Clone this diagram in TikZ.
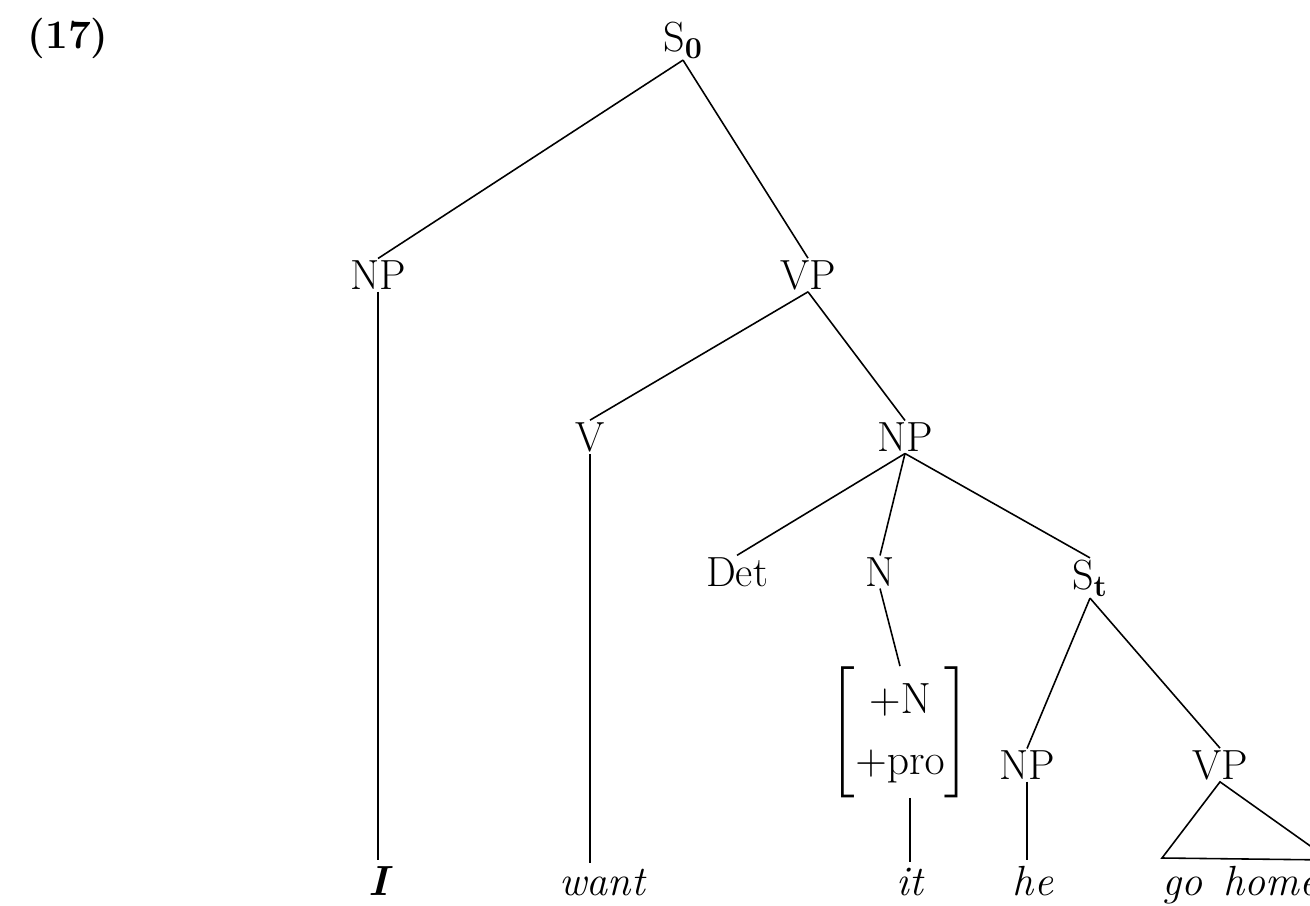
\documentclass[tikz,border=0pt]{standalone}
\usepackage{amsmath}
\begin{document}
\begin{tikzpicture}[x=0.02cm,y=-0.02cm,
  lab/.style={inner sep=1pt,font=\fontsize{24}{29}\selectfont},
  word/.style={inner sep=3pt,font=\fontsize{24}{29}\selectfont\itshape},
  edge/.style={line width=0.9pt}]
\useasboundingbox (0,0) rectangle (1310,905);
\clip (0,0) rectangle (1310,905);
\node[lab,font=\fontsize{23}{28}\selectfont\bfseries] (num) at (68,38) {(17)};
\node[lab] (S0) at (683,40) {S$_{\mathbf{0}}$};
\node[lab] (NPa) at (378,275) {NP};
\node[lab] (VPa) at (808,275) {VP};
\node[lab] (V) at (590,437) {V};
\node[lab] (NPb) at (905,437) {NP};
\node[lab] (Det) at (737,572) {Det};
\node[lab] (N) at (880,572) {N};
\node[lab] (St) at (1090,578) {S$_{\mathbf{t}}$};
\node[lab,inner sep=0pt] (feat) at (900,732) {$\renewcommand{\arraystretch}{1.2}\begin{bmatrix}+\mathrm{N}\\+\mathrm{pro}\end{bmatrix}$};
\node[lab] (NPc) at (1027,765) {NP};
\node[lab] (VPc) at (1220,765) {VP};
\node[word,anchor=base,font=\fontsize{24}{29}\selectfont\bfseries\itshape] (I) at (378,895) {I};
\node[word,anchor=base] (want) at (602,895) {want};
\node[word,anchor=base] (it) at (910,895) {it};
\node[word,anchor=base] (he) at (1033,895) {he};
\node[word,anchor=base west] (gohome) at (1157,895) {go\enspace home};
\coordinate (tl) at (1162,858);
\coordinate (tr) at (1330,860);
\draw[edge] (S0.south) -- (NPa.north);
\draw[edge] (S0.south) -- (VPa.north);
\draw[edge] (NPa.south) -- (NPa.south |- I.north);
\draw[edge] (VPa.south) -- (V.north);
\draw[edge] (VPa.south) -- (NPb.north);
\draw[edge] (V.south) -- (V.south |- want.north);
\draw[edge] (NPb.south) -- (Det.north);
\draw[edge] (NPb.south) -- (N.north);
\draw[edge] (NPb.south) -- (St.north);
\draw[edge] (N.south) -- (feat.north);
\draw[edge] (feat.south -| it.north) -- (it.north);
\draw[edge] (St.south) -- (NPc.north);
\draw[edge] (St.south) -- (VPc.north);
\draw[edge] (NPc.south) -- (NPc.south |- he.north);
\draw[edge] (tl) -- (VPc.south) -- (tr) -- cycle;
\end{tikzpicture}
\end{document}
